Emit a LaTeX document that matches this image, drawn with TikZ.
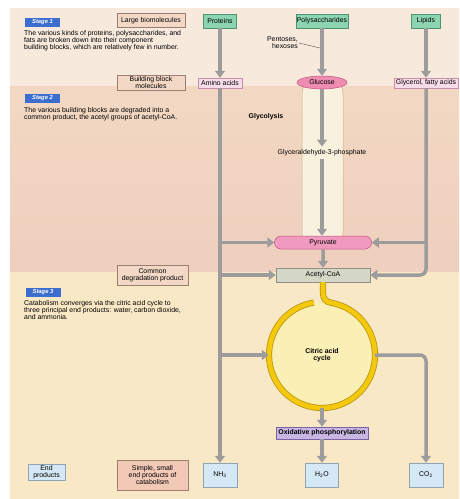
\documentclass[tikz,border=0pt]{standalone}
\usepackage{fontspec}
\setmainfont{Liberation Sans}
\usepackage{tikz}
\usetikzlibrary{arrows.meta, shapes, positioning, calc}
\definecolor{bgone}{HTML}{F7EADD}
\definecolor{bgtwotop}{HTML}{F2D8C3}
\definecolor{bgtwobot}{HTML}{EFCFBE}
\definecolor{bgthree}{HTML}{F9E8C5}
\definecolor{boxfill}{HTML}{F3D8C6}
\definecolor{boxline}{HTML}{9C7F72}
\definecolor{sspfill}{HTML}{F2C9B6}
\definecolor{greenfill}{HTML}{8DD4B0}
\definecolor{greenline}{HTML}{4E9272}
\definecolor{pinkfill}{HTML}{F8DDE9}
\definecolor{pinkline}{HTML}{C98FAA}
\definecolor{glcfill}{HTML}{EE8CB2}
\definecolor{glcline}{HTML}{C4527F}
\definecolor{pyrfill}{HTML}{F09AC0}
\definecolor{acofill}{HTML}{D5D7C6}
\definecolor{acoline}{HTML}{8F9085}
\definecolor{oxpfill}{HTML}{C9B6E3}
\definecolor{oxpline}{HTML}{7B64A6}
\definecolor{bluefill}{HTML}{D4E9F5}
\definecolor{blueline}{HTML}{8FA3B3}
\definecolor{stageblue}{HTML}{3C6ED0}
\definecolor{arrowgray}{HTML}{9C9C9C}
\definecolor{colfill}{HTML}{F8F1DE}
\definecolor{colline}{HTML}{C8B18A}
\definecolor{ringyellow}{HTML}{F4C80C}
\definecolor{ringline}{HTML}{B89512}
\definecolor{ringfill}{HTML}{FAEFB4}
\newcommand{\smallfnt}{\fontsize{6.9}{7.2}\selectfont}
\newcommand{\stagefnt}{\fontsize{5.8}{6}\selectfont\bfseries\itshape}
\tikzset{
   mybox/.style={draw=boxline, fill=boxfill, line width=.5pt, align=center, minimum width=68pt},
   mygreen/.style={draw=greenline, fill=greenfill, line width=.5pt, minimum height=14pt},
   mypink/.style={draw=pinkline, fill=pinkfill, line width=.5pt, minimum height=10pt, inner sep=.5pt},
   myblue/.style={draw=blueline, fill=bluefill, line width=.5pt, minimum width=34pt, minimum height=24pt},
   mystage/.style={fill=stageblue, text=white, font=\stagefnt, minimum width=35pt, minimum height=9pt},
   mytext/.style={anchor=north west, align=left}
}
\begin{document}
\begin{tikzpicture}[x=1pt,y=1pt,font=\smallfnt,
        every node/.style={inner sep=1pt}]
   \tikzstyle{line} = [draw=arrowgray, line width=3.5pt, -{Triangle[length=7pt,width=10pt]}]
   % background bands
   \useasboundingbox (0,0) rectangle (459,-499);
   \fill[white] (0,0) rectangle (459,-499);
   \fill[bgone] (10,-8) rectangle (459,-86);
   \shade[top color=bgtwotop, bottom color=bgtwobot] (10,-86) rectangle (459,-272);
   \fill[bgthree] (10,-272) rectangle (459,-499);
   % glycolysis column
   \draw[colline, fill=colfill, line width=.5pt, rounded corners=16pt] (302,-78) rectangle (343,-248);

   % stage 1
   \node[mystage] (stagea) at (42.5,-22) {Stage 1};
   \node[mytext] (txta) at (23,-29) {The various kinds of proteins, polysaccharides, and\\fats are broken down into their component\\building blocks, which are relatively few in number.};
   \node[mybox, minimum height=14pt] (lbm) at (151,-20.5) {Large biomolecules};
   \node[mygreen, minimum width=33pt] (pro) at (220,-21) {Proteins};
   \node[mygreen, minimum width=50pt] (pol) at (322,-21) {Polysaccharides};
   \node[mygreen, minimum width=29pt] (lip) at (426,-21) {Lipids};
   \node[align=right, anchor=east] (pent) at (299,-43) {Pentoses,\\hexoses};
   \coordinate (pentx) at (320,-48);

   \node[mybox, minimum height=15pt] (bbm) at (151,-82.5) {Building block\\molecules};
   \node[mypink, minimum width=44pt] (ami) at (220,-83) {Amino acids};
   \node[ellipse, draw=glcline, fill=glcfill, line width=.5pt, inner sep=0pt,
         minimum width=50pt, minimum height=13pt] (glc) at (322,-82.5) {Glucose};
   \node[mypink, minimum width=64pt] (fat) at (426,-83) {Glycerol, fatty acids};

   % stage 2
   \node[mystage] (stageb) at (42.5,-98) {Stage 2};
   \node[mytext] (txtb) at (23,-106) {The various building blocks are degraded into a\\common product, the acetyl groups of acetyl-CoA.};
   \node[font=\smallfnt\bfseries] (glyco) at (266,-117) {Glycolysis};
   \node[inner sep=3pt] (g3p) at (322,-153) {Glyceraldehyde-3-phosphate};
   \node[rounded rectangle, draw=glcline, fill=pyrfill, line width=.5pt,
         minimum width=99pt, minimum height=13pt] (pyr) at (323,-242.5) {Pyruvate};
   \node[draw=acoline, fill=acofill, line width=.5pt, minimum width=94pt, minimum height=14pt] (aco) at (323,-275) {Acetyl-CoA};
   \node[mybox, minimum width=71pt, minimum height=20pt] (cdp) at (152.5,-275) {Common\\degradation product};

   % stage 3
   \node[mystage] (stagec) at (43,-292) {Stage 3};
   \node[mytext] (txtc) at (23,-299) {Catabolism converges via the citric acid cycle to\\three principal end products: water, carbon dioxide,\\and ammonia.};
   \node[circle, fill=ringfill, inner sep=0pt, minimum size=106pt, align=center,
         font=\smallfnt\bfseries] (cac) at (322,-355) {Citric acid\\cycle};
   \draw[ringyellow, line width=4.6pt, preaction={draw=ringline, line width=6.2pt}]
      (aco.south) -- ++(0,-10) .. controls +(0,-6) and +(-6,1) .. ([shift={(80:53)}]cac.center)
      arc[start angle=80, end angle=-261, radius=53];
   \draw[ringyellow, line width=4.6pt] (aco.south) -- ++(0,-10);
   \node[draw=oxpline, fill=oxpfill, line width=.5pt, minimum width=92pt, minimum height=12pt,
         font=\smallfnt\bfseries] (oxp) at (322,-433) {Oxidative phosphorylation};
   \node[myblue] (nh3) at (220,-475) {NH\textsubscript{3}};
   \node[myblue, minimum width=33pt] (h2o) at (322,-475) {H\textsubscript{2}O};
   \node[myblue] (co2) at (426,-475) {CO\textsubscript{2}};
   \node[myblue, minimum width=37pt, minimum height=15pt, align=center] (endp) at (46.5,-472.5) {End\\products};
   \node[mybox, fill=sspfill, minimum width=71pt, minimum height=30pt] (ssp) at (152.5,-475) {Simple, small\\end products of\\catabolism};

   % connectors
   \draw[black!70, line width=.4pt] (pent.east) -- (pentx);
   \path [line] (pro) -- (ami);
   \path [line] (pol) -- (glc);
   \path [line] (lip) -- (fat);
   \path [line] (ami) -- (nh3);
   \path [line] (glc) -- (g3p);
   \path [line] (g3p) -- (g3p |- pyr.north);
   \path [line] (pyr) -- (pyr |- aco.north);
   \path [line] (ami.south |- pyr.west) -- (pyr.west);
   \path [line] (ami.south |- aco.west) -- (aco.west);
   \path [line] (ami.south |- cac.west) -- (cac.west);
   \path [line] (fat.south |- pyr.east) -- (pyr.east);
   \path [line, rounded corners=6pt] (fat) |- (aco);
   \path [line, rounded corners=6pt] (cac) -| (co2);
   \path [line] (cac) -- (oxp);
   \path [line] (oxp) -- (h2o);
\end{tikzpicture}
\end{document}
